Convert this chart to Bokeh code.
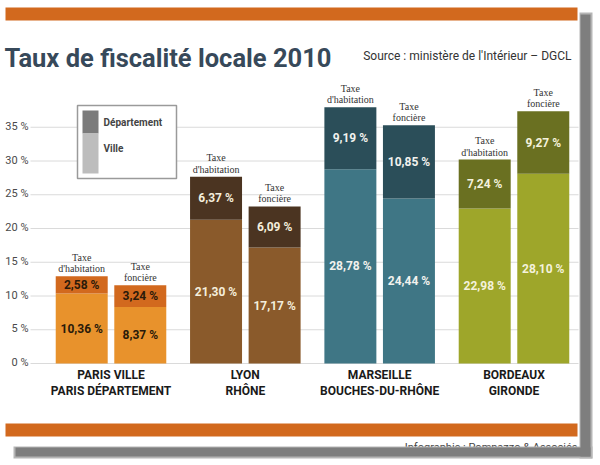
from bokeh.plotting import figure
from bokeh.models import (Range1d, ColumnDataSource, BoxAnnotation, Label)
from bokeh.transform import dodge
from bokeh.core.properties import value
from bokeh.embed import file_html
from bokeh.resources import INLINE

# ---------------- data ----------------
cities = ["Paris", "Lyon", "Marseille", "Bordeaux"]
tax_labels = ["Taxe\nd'habitation", "Taxe\nfoncière"]
city_line1 = ["PARIS VILLE", "LYON", "MARSEILLE", "BORDEAUX"]
city_line2 = ["PARIS DÉPARTEMENT", "RHÔNE", "BOUCHES-DU-RHÔNE", "GIRONDE"]

ville_hab = [10.36, 21.30, 28.78, 22.98]
ville_fonc = [8.37, 17.17, 24.44, 28.10]
dept_hab = [2.58, 6.37, 9.19, 7.24]
dept_fonc = [3.24, 6.09, 10.85, 9.27]

y_ticks = [0, 5, 10, 15, 20, 25, 30, 35]
y_tick_labels = ["0 %", "5 %", "10 %", "15 %", "20 %", "25 %", "30 %", "35 %"]
legend_labels = ["Département", "Ville"]

title_text = "Taux de fiscalité locale 2010"
source_text = "Source : ministère de l'Intérieur – DGCL"
footer_text = "Infographie : Pomnazzo & Associés"

# ---------------- styles ----------------
ville_colors = ["#E8922C", "#8A5A2B", "#3F7685", "#9EA62A"]
dept_colors = ["#D2691E", "#4B3421", "#2B4E59", "#6A7021"]
value_text_colors = ["#2A1A0A", "#F4EEDC", "#F2F2EE", "#F4F2DC"]
legend_colors = ["#7B7B7B", "#BDBDBD"]
ORANGE = "#D2691E"
GRID = "#DADADA"

# ---------------- layout constants (pixels) ----------------
W, H = 600, 465
ZERO_PX, PX_PER_PCT = 363, 6.75          # y mapping
GROUP0_PX, GROUP_STEP_PX = 110.5, 134.33  # x mapping (group centres)
BAR_OFFSETS = [-0.218, 0.218]            # dodge in group units
BAR_WIDTH = 0.387


def fmt(v):
    return f"{v:.2f}".replace(".", ",") + " %"


x0 = -GROUP0_PX / GROUP_STEP_PX
p = figure(width=W, height=H,
           x_range=Range1d(x0, x0 + W / GROUP_STEP_PX),
           y_range=Range1d(-(H - ZERO_PX) / PX_PER_PCT, ZERO_PX / PX_PER_PCT),
           output_backend="svg", toolbar_location=None, title=None,
           min_border=0)
p.min_border_left = p.min_border_right = p.min_border_top = p.min_border_bottom = 0
p.outline_line_color = None
p.background_fill_color = "white"
p.border_fill_color = "white"
p.xaxis.visible = False
p.yaxis.visible = False
p.grid.visible = False
# pixel ranges for decorations
p.extra_x_ranges = {"px": Range1d(0, W)}
p.extra_y_ranges = {"py": Range1d(H, 0)}

# ---- gridlines and y tick labels ----
gsrc = ColumnDataSource(dict(t=y_ticks, lbl=y_tick_labels))
p.segment(x0=30, x1=578, y0="t", y1="t", source=gsrc, x_range_name="px",
          line_color=GRID, line_width=1)
p.text(x=28, y="t", text="lbl", source=gsrc, x_range_name="px", y_offset=-1,
       text_font=value("Roboto"), text_font_size=value("11px"),
       text_color="#4A4A4A", text_align="right", text_baseline="alphabetic")

# ---- bars ----
gi = list(range(len(cities)))
for j, (vv, dd) in enumerate([(ville_hab, dept_hab), (ville_fonc, dept_fonc)]):
    tot = [v + d for v, d in zip(vv, dd)]
    s = ColumnDataSource(dict(
        gi=gi, ville=vv, dept=dd, total=tot,
        vmid=[v / 2 for v in vv], dmid=[v + d / 2 for v, d in zip(vv, dd)],
        vlbl=[fmt(v) for v in vv], dlbl=[fmt(d) for d in dd],
        vcol=ville_colors, dcol=dept_colors, tcol=value_text_colors,
        tlbl=[tax_labels[j]] * len(cities)))
    xx = dodge("gi", BAR_OFFSETS[j])
    p.vbar(x=xx, bottom=0, top="ville", width=BAR_WIDTH, fill_color="vcol",
           line_color=None, source=s)
    p.vbar(x=xx, bottom="ville", top="total", width=BAR_WIDTH,
           fill_color="dcol", line_color=None, source=s)
    for yf, tf in (("vmid", "vlbl"), ("dmid", "dlbl")):
        p.text(x=xx, y=yf, text=tf, source=s, text_color="tcol",
               text_font=value("Roboto"), text_font_style="bold",
               text_font_size=value("12px"), text_align="center",
               text_baseline="middle")
    p.text(x=xx, y="total", text="tlbl", source=s, y_offset=-2,
           text_font=value("Liberation Serif"), text_font_size=value("10px"),
           text_color="#333333", text_align="center", text_baseline="bottom",
           text_line_height=1.05)

# ---- city labels ----
csrc = ColumnDataSource(dict(gi=gi, ctext=[a + "\n" + b for a, b in
                                           zip(city_line1, city_line2)]))
p.text(x="gi", y=0, text="ctext", source=csrc, y_offset=4,
       text_font=value("Roboto"), text_font_style="bold",
       text_font_size=value("12px"), text_color="#1A1A1A",
       text_align="center", text_baseline="top", text_line_height=1.2)


def box(l, r, t, b, color, **kw):
    p.add_layout(BoxAnnotation(left=l, right=r, top=t, bottom=b,
                               x_range_name="px", y_range_name="py",
                               fill_color=color, fill_alpha=1.0,
                               line_color=kw.get("line_color"),
                               line_width=kw.get("line_width", 1),
                               line_alpha=1.0))


def label(x, y, text, **kw):
    p.add_layout(Label(x=x, y=y, text=text, x_range_name="px",
                       y_range_name="py", **kw))


# ---- legend (manual) ----
box(77, 176, 105, 178, "white", line_color="#9A9A9A", line_width=1.5)
box(82, 98, 110, 133, legend_colors[0])
box(82, 98, 133, 173, legend_colors[1])
label(103, 122, legend_labels[0], text_font="Roboto", text_font_style="bold",
      text_font_size="10px", text_color="#444444", text_baseline="middle")
label(103, 148, legend_labels[1], text_font="Roboto", text_font_style="bold",
      text_font_size="10px", text_color="#444444", text_baseline="middle")

# ---- decorations ----
box(5, 577, 7, 20, ORANGE)
box(5, 577, 423, 436, ORANGE)
label(4, 57, title_text, text_font="Roboto", text_font_style="bold",
      text_font_size="25.5px", text_color="#37495A", text_baseline="alphabetic")
label(571, 55, source_text, text_font="Roboto", text_font_size="12px",
      text_color="#333333", text_align="right", text_baseline="alphabetic")
label(577, 447, footer_text, text_font="Roboto", text_font_size="11px",
      text_color="#444444", text_align="right", text_baseline="alphabetic")

# ---- card shadow ----
box(579, 592, 12, 458, "#B5B5B5")
box(13, 592, 446, 458, "#B5B5B5")
box(580, 590, 14, 456, "#7E7E7E")
box(15, 590, 447, 456, "#7E7E7E")

open("out.html", "w").write(file_html(p, INLINE))
